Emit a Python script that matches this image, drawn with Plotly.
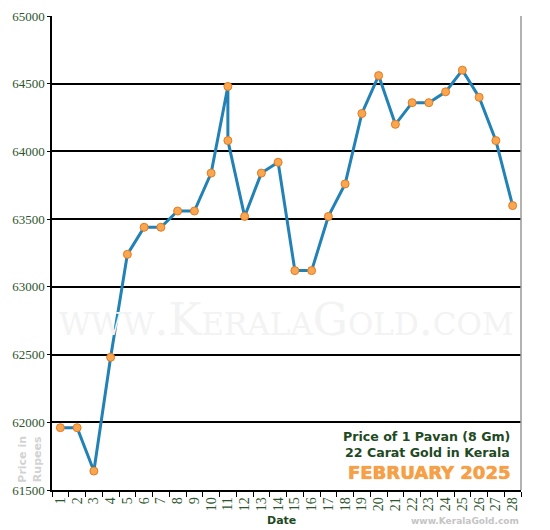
import plotly.graph_objects as go

# February 2025, 22 carat gold, 1 pavan (8 g) price in Kerala
days = [1, 2, 3, 4, 5, 6, 7, 8, 9, 10, 11, 11, 12, 13, 14, 15, 16, 17, 18, 19,
        20, 21, 22, 23, 24, 25, 26, 27, 28]
prices = [61960, 61960, 61640, 62480, 63240, 63440, 63440, 63560, 63560, 63840,
          64480, 64080, 63520, 63840, 63920, 63120, 63120, 63520, 63760, 64280,
          64560, 64200, 64360, 64360, 64440, 64600, 64400, 64080, 63600]
date_ticks = list(range(1, 29))
price_ticks = [61500, 62000, 62500, 63000, 63500, 64000, 64500, 65000]

GREEN = "#2d552d"

fig = go.Figure()
fig.add_trace(
    go.Scatter(
        x=days,
        y=prices,
        mode="lines+markers",
        line=dict(color="#2281b5", width=3),
        marker=dict(size=8, color="#f8a650", line=dict(color="#e47b22", width=1)),
        hoverinfo="x+y",
        showlegend=False,
    )
)

# page body has an 8px margin, so the figure is drawn 8px smaller
fig.update_layout(
    width=542,
    height=522,
    margin=dict(l=44, r=29, t=8, b=40),
    paper_bgcolor="white",
    plot_bgcolor="white",
    font=dict(family="Liberation Serif", color=GREEN),
)

fig.update_xaxes(
    range=[0.5, 28.5],
    tickvals=date_ticks,
    ticktext=[str(d) for d in date_ticks],
    tickangle=-90,
    tickfont=dict(family="Liberation Serif", size=14, color=GREEN),
    ticks="outside",
    ticklen=0,
    minor=dict(tick0=0.5, dtick=1, ticks="outside", ticklen=5, tickcolor="black"),
    showgrid=False,
    showline=True,
    linecolor="black",
    linewidth=1.5,
    zeroline=False,
    automargin=False,
)
fig.update_yaxes(
    range=[61500, 65000],
    tickvals=price_ticks,
    ticktext=[str(p) for p in price_ticks],
    tickfont=dict(family="Liberation Serif", size=13, color=GREEN),
    ticks="outside",
    ticklen=3,
    tickcolor="black",
    showgrid=True,
    gridcolor="black",
    gridwidth=1.5,
    showline=True,
    linecolor="black",
    linewidth=1.5,
    zeroline=False,
    automargin=False,
)

# right border
fig.add_shape(type="line", xref="paper", yref="paper", x0=1, x1=1, y0=0, y1=1,
              line=dict(color="#999999", width=1.5))

# watermark
fig.add_annotation(
    text="www.KeralaGold.com", xref="paper", yref="paper", x=0.5, y=0.36,
    showarrow=False,
    font=dict(family="DejaVu Serif", size=44, color="#f3f3f3", variant="small-caps"),
)

fig.add_annotation(
    text="<b>Price of 1 Pavan (8 Gm)</b>", xref="paper", yref="paper",
    x=0.981, y=0.112, xanchor="right", yanchor="middle", showarrow=False,
    font=dict(family="DejaVu Sans", size=12.6, color="#1f4a1f"),
)
fig.add_annotation(
    text="<b>22 Carat Gold in Kerala</b>", xref="paper", yref="paper",
    x=0.981, y=0.080, xanchor="right", yanchor="middle", showarrow=False,
    font=dict(family="DejaVu Sans", size=12.6, color="#1f4a1f"),
)
fig.add_annotation(
    text="<b>FEBRUARY 2025</b>", xref="paper", yref="paper",
    x=0.981, y=0.036, xanchor="right", yanchor="middle", showarrow=False,
    font=dict(family="DejaVu Sans", size=18, color="#f7a046",
              shadow="0px 0px 1px #d9741c"),
)

fig.add_annotation(
    text="<b>Price in<br>Rupees</b>", xref="paper", yref="paper",
    x=-0.015, y=0.065, xanchor="right", yanchor="middle", textangle=-90,
    showarrow=False,
    font=dict(family="DejaVu Sans", size=11, color="#d2d2d2"),
)
fig.add_annotation(
    text="<b>Date</b>", xref="paper", yref="paper", x=0.49, y=-0.065,
    yanchor="middle", showarrow=False,
    font=dict(family="DejaVu Sans", size=11, color="#1f4a1f"),
)
fig.add_annotation(
    text="<b>www.KeralaGold.com</b>", xref="paper", yref="paper", x=1.0, y=-0.065,
    xanchor="right", yanchor="middle", showarrow=False,
    font=dict(family="DejaVu Sans", size=9, color="#c4c4c4"),
)

fig.write_html("out.html")
